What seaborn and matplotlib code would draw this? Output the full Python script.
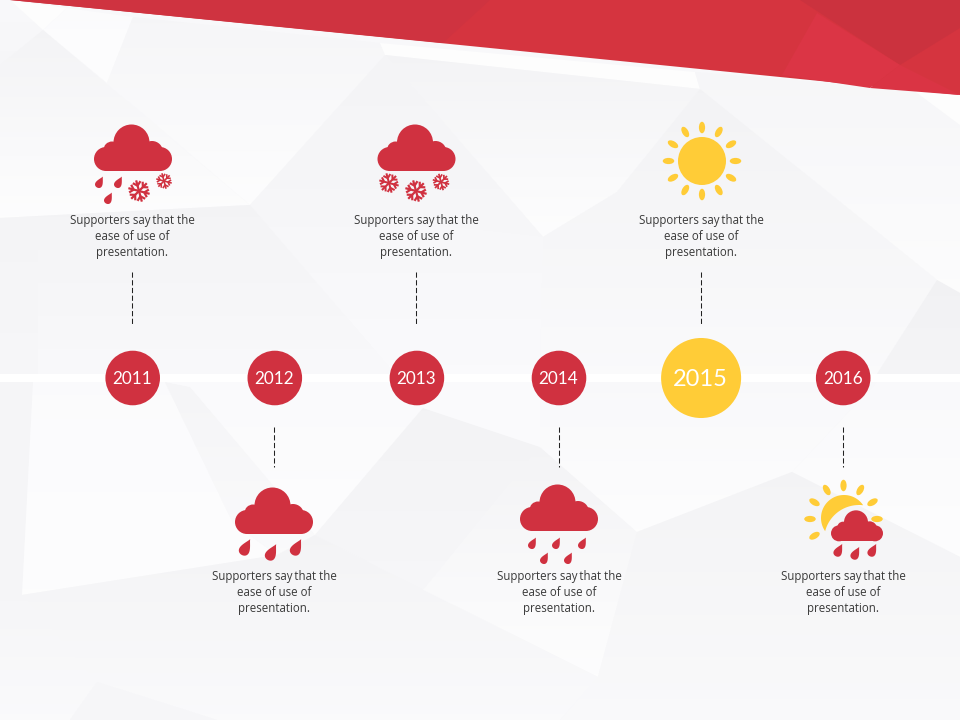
import numpy as np
import pandas as pd
import matplotlib
matplotlib.use("Agg")
import matplotlib.pyplot as plt
from matplotlib.colors import to_rgb
from matplotlib.patches import Polygon, Circle, Ellipse, Rectangle
import seaborn as sns

# ---- data ----
years = [2011, 2012, 2013, 2014, 2015, 2016]
states = ["normal", "normal", "normal", "normal", "highlight", "normal"]
caption_lines = ["Supporters say\u2009that the", "ease of use of", "presentation."]
RED = "#d03140"
YELLOW = "#ffcc37"
TEXT = "#3a3a3a"
BG = "#f8f8fa"

sns.set_theme(style="white")
plt.rcParams["font.family"] = ["Open Sans", "DejaVu Sans"]

fig = plt.figure(figsize=(9.6, 7.2), dpi=100, facecolor=BG)
ax = fig.add_axes([0, 0, 1, 1])
ax.set_xlim(0, 960)
ax.set_ylim(720, 0)
ax.axis("off")


def year_x(y):
    return 132.7 + (y - 2011) * 142.1


def soften(c):
    base = np.array(to_rgb(BG))
    return 0.72 * np.array(to_rgb(c)) + 0.28 * base


def facet(pts, top, bottom=None):
    bottom = bottom or top
    arr = np.array(pts, float)
    g = np.linspace(0, 1, 64)[:, None, None]
    rgb = (1 - g) * soften(top)[None, None, :] + g * soften(bottom)[None, None, :]
    im = ax.imshow(rgb, extent=(arr[:, 0].min(), arr[:, 0].max(), arr[:, 1].max(), arr[:, 1].min()),
                   origin="upper", aspect="auto", zorder=0, interpolation="bilinear")
    im.set_clip_path(Polygon(pts, closed=True, transform=ax.transData))


# ---- background facets ----
facets = [
    ([(0, 0), (10, 0), (43, 30), (0, 65)], "#f9f9fb", "#f6f6f8"),
    ([(10, 0), (67, 8), (43, 30)], "#ffffff", "#ffffff"),
    ([(67, 8), (133, 17), (107, 83), (43, 30)], "#fdfdfe", "#ffffff"),
    ([(0, 65), (43, 30), (250, 205), (0, 218)], "#f2f2f4", "#ffffff"),
    ([(133, 17), (380, 43), (385, 55), (250, 205), (107, 83)], "#f5f5f7", "#ffffff"),
    ([(380, 43), (695, 72), (700, 89), (385, 55)], "#ffffff", "#ffffff"),
    ([(385, 55), (700, 89), (617, 192), (543, 237)], "#f2f2f4", "#ffffff"),
    ([(385, 55), (543, 237), (250, 205)], "#f3f3f5", "#f6f6f8"),
    ([(695, 72), (913, 90), (960, 125), (960, 293), (937, 280), (700, 89)], "#f6f6f8", "#fefefe"),
    ([(913, 90), (960, 95), (960, 125)], "#ffffff", "#ffffff"),
    ([(700, 89), (937, 280), (877, 374), (540, 374), (543, 237), (617, 192)], "#f1f1f3", "#fbfbfc"),
    ([(937, 280), (960, 293), (960, 374), (877, 374)], "#efeff1", "#f3f3f5"),
    ([(250, 205), (543, 237), (540, 374), (395, 374)], "#f6f6f8", "#fbfbfd"),
    ([(0, 218), (250, 205), (395, 374), (38, 374)], "#f2f2f4", "#f9f9fb"),
    ([(0, 218), (38, 218), (38, 374), (0, 374)], "#f3f3f5", "#f6f6f8"),
    # lower half
    ([(0, 382), (33, 382), (22, 595), (0, 600)], "#f5f5f7", "#f4f4f6"),
    ([(33, 382), (165, 382), (233, 523), (277, 555), (22, 595)], "#fcfcfe", "#ffffff"),
    ([(165, 382), (190, 387), (315, 535), (277, 555), (233, 523)], "#f4f4f6", "#fbfbfc"),
    ([(165, 382), (423, 382), (423, 408), (315, 535), (190, 387)], "#fbfbfd", "#ffffff"),
    ([(315, 535), (423, 408), (540, 447), (423, 590)], "#f1f1f3", "#f6f6f8"),
    ([(423, 382), (540, 382), (540, 447), (423, 408)], "#fbfbfd", "#fbfbfd"),
    ([(540, 447), (637, 532), (598, 677), (423, 590)], "#f2f2f4", "#ffffff"),
    ([(540, 382), (877, 382), (792, 472), (637, 532), (540, 447)], "#f9f9fb", "#ffffff"),
    ([(792, 472), (877, 382), (960, 382), (960, 557)], "#fafafc", "#ffffff"),
    ([(637, 532), (792, 472), (960, 557), (960, 720), (560, 720), (598, 677)], "#f2f2f4", "#fafafb"),
    ([(22, 595), (277, 555), (315, 535), (423, 590), (598, 677), (560, 720), (217, 720), (97, 682)], "#f2f2f4", "#fbfbfc"),
    ([(0, 600), (22, 595), (97, 682), (70, 720), (0, 720)], "#f5f5f7", "#fbfbfc"),
    ([(97, 682), (217, 720), (70, 720)], "#f6f6f8", "#f6f6f8"),
]
for pts, c1, c2 in facets:
    facet(pts, c1, c2)

# ---- red banner ----
banner = [
    ([(10, 0), (960, 0), (960, 95)], "#d5343f"),
    ([(10, 0), (490, 0), (443, 43)], "#cf3340"),
    ([(800, 0), (960, 0), (960, 28), (900, 65)], "#cb323e"),
    ([(817, 13), (900, 65), (870, 88), (782, 75)], "#db3545"),
    ([(900, 65), (960, 95), (870, 88)], "#da3444"),
]
for pts, c in banner:
    ax.add_patch(Polygon(pts, closed=True, fc=c, ec="none", zorder=1))

# ---- timeline ----
ax.add_patch(Rectangle((0, 374), 960, 8, fc="#ffffff", ec="none", zorder=1))

df = pd.DataFrame({"year": years, "state": states})
df["x"] = df["year"].map(year_x)
df["y"] = 378
sns.scatterplot(
    data=df, x="x", y="y", hue="state", size="state",
    palette={"normal": RED, "highlight": YELLOW},
    sizes={"normal": 1545, "highlight": 3320},
    linewidth=0, legend=False, ax=ax, zorder=3,
)
ax.set_xlim(0, 960)
ax.set_ylim(720, 0)
ax.set_xlabel("")
ax.set_ylabel("")

for yr, st, x in zip(df["year"], df["state"], df["x"]):
    ax.text(x - 0.5, 379.5, str(yr), color="white", ha="center", va="center", family="Lato",
            fontsize=17 if st == "highlight" else 12.3, zorder=4)


# ---- icons ----
def cloud(cx, top, width, zorder=5):
    k = width / 78.0
    for dx, dy, r in [(-1.5, 18.5, 18), (-21, 26, 8.5), (19, 28, 11), (-27, 35, 12), (27, 35, 12)]:
        ax.add_patch(Circle((cx + dx * k, top + dy * k), r * k, fc=RED, ec="none", zorder=zorder))
    ax.add_patch(Rectangle((cx - 21 * k, top + 26 * k), 40 * k, 21 * k, fc=RED, ec="none", zorder=zorder))
    ax.add_patch(Rectangle((cx - 27 * k, top + 35 * k), 54 * k, 12 * k, fc=RED, ec="none", zorder=zorder))


def drop(x, y, h):
    t = np.linspace(0, 2 * np.pi, 60)
    px = 0.85 * np.sin(t) * np.sin(t / 2) ** 1.6
    py = -np.cos(t)
    a = np.deg2rad(28)
    qx = px * np.cos(a) - py * np.sin(a)
    qy = px * np.sin(a) + py * np.cos(a)
    ax.add_patch(Polygon(np.c_[x + qx * h / 2, y + qy * h / 2], closed=True, fc=RED, ec="none", zorder=5))


def flake(x, y, r):
    lw = r * 0.145
    for a in np.deg2rad(np.arange(15, 375, 60)):
        u = np.array([np.cos(a), np.sin(a)])
        n = np.array([-u[1], u[0]])
        ax.plot([x, x + u[0] * r], [y, y + u[1] * r], color=RED, lw=lw, zorder=5, solid_capstyle="butt")
        base = np.array([x, y]) + u * r * 0.5
        for s in (-1, 1):
            tip = base + u * r * 0.33 + s * n * r * 0.36
            ax.plot([base[0], tip[0]], [base[1], tip[1]], color=RED, lw=lw, zorder=5, solid_capstyle="butt")


def sun_rays(cx, cy, rr, ln, wd, angles, zorder=5):
    for a in angles:
        t = np.deg2rad(a)
        ax.add_patch(Ellipse((cx + rr * np.cos(t), cy - rr * np.sin(t)), ln, wd, angle=-a,
                             fc=YELLOW, ec="none", zorder=zorder))


def crescent(c1, R, c2, r):
    c1, c2 = np.array(c1, float), np.array(c2, float)
    v = c2 - c1
    d = np.hypot(*v)
    a = np.arctan2(v[1], v[0])
    beta = np.arccos((d * d + R * R - r * r) / (2 * d * R))
    gamma = np.arccos((d * d + r * r - R * R) / (2 * d * r))
    th = np.linspace(a + beta, a + 2 * np.pi - beta, 80)
    outer = c1 + R * np.c_[np.cos(th), np.sin(th)]
    th2 = np.linspace(a + np.pi - gamma, a + np.pi + gamma, 60)
    inner = c2 + r * np.c_[np.cos(th2), np.sin(th2)]
    if np.hypot(*(inner[0] - outer[-1])) > np.hypot(*(inner[-1] - outer[-1])):
        inner = inner[::-1]
    ax.add_patch(Polygon(np.r_[outer, inner], closed=True, fc=YELLOW, ec="none", zorder=5))


# 2011
cloud(133, 124, 78)
for p in [(100, 182), (119, 182), (109, 198)]:
    drop(*p, 12.5)
flake(139, 191, 11)
flake(164, 181, 8)
# 2013
cloud(416.5, 124, 78)
flake(389, 183, 10)
flake(416, 191, 11)
flake(441, 182, 8.5)
# 2012
cloud(274, 487, 78)
for p in [(246, 547), (272, 552), (297, 547)]:
    drop(*p, 18)
# 2014
cloud(559, 484, 78)
for p in [(533, 543), (557, 543), (583, 543), (545, 558), (569, 558)]:
    drop(*p, 12.5)
# 2015 sun
ax.add_patch(Circle((702, 161), 24, fc=YELLOW, ec="none", zorder=5))
sun_rays(702, 161, 33.5, 11.5, 6.2, np.arange(0, 360, 30))
# 2016 sun + cloud
crescent((844, 518), 23, (859, 540), 35)
sun_rays(843.5, 519, 33.5, 11.5, 6.2, [0, 30, 60, 90, 120, 150, 180, 210])
cloud(857, 510, 52, zorder=6)
for p in [(839, 550), (856, 553), (873, 550)]:
    drop(*p, 14)

# ---- captions & connectors ----
upper = [132, 416, 701]
lower = [274, 559, 843]


def caption(x, y0):
    for i, line in enumerate(caption_lines):
        ax.text(x, y0 + 16 * i, line, color=TEXT, fontsize=8.3, ha="center",
                va="baseline", zorder=4)


for x in upper:
    ax.plot([x, x], [272, 325], color="#222222", lw=0.75, ls=(0, (5, 2.4)), zorder=3)
    caption(x, 224)
for x in lower:
    ax.plot([x, x], [427, 467], color="#222222", lw=0.75, ls=(0, (5, 2.4)), zorder=3)
    caption(x, 580)

fig.savefig("out.png", dpi=100, facecolor=fig.get_facecolor())
